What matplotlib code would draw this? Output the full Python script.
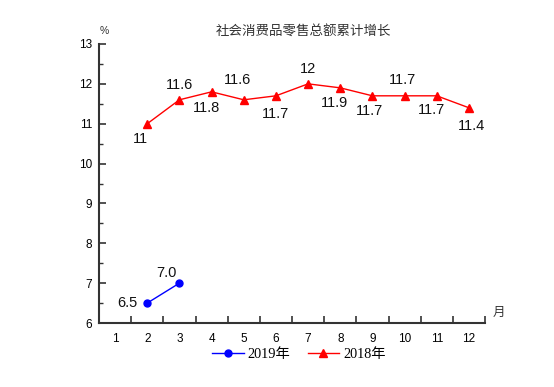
import numpy as np
import matplotlib.pyplot as plt
from matplotlib.ticker import MultipleLocator, FixedLocator

plt.rcParams['font.family'] = ['Liberation Sans', 'Noto Sans CJK SC', 'DejaVu Sans']

#===============================================================#
## data
months = list(range(1, 13))
m_2019 = [2, 3]
v_2019 = [6.5, 7.0]
m_2018 = [2, 3, 4, 5, 6, 7, 8, 9, 10, 11, 12]
v_2018 = [11, 11.6, 11.8, 11.6, 11.7, 12, 11.9, 11.7, 11.7, 11.7, 11.4]
lab_2018 = ["11", "11.6", "11.8", "11.6", "11.7", "12", "11.9", "11.7", "11.7", "11.7", "11.4"]
lab_2019 = ["6.5", "7.0"]

# label offsets in points (dx, dy)
off_2018 = [(-5, -11), (0, 11), (-4, -12), (-4.5, 14), (0, -13), (0, 11),
            (-4, -11), (-2, -11), (-1.5, 11.5), (-3.5, -10), (2, -13)]
off_2019 = [(-14, 0), (-9, 7)]

#===============================================================#
fig = plt.figure(figsize=(5.54, 3.87), dpi=100)
ax = fig.add_axes([99 / 554, 1 - 323 / 387, 386 / 554, 279 / 387])

l1, = ax.plot(m_2019, v_2019, '-o', color='#0000ff', lw=1, ms=5, label='2019年')
l2, = ax.plot(m_2018, v_2018, '-^', color='#ff0000', lw=1, ms=6, label='2018年')

for x, y, t, (dx, dy) in zip(m_2018, v_2018, lab_2018, off_2018):
    ax.annotate(t, (x, y), xytext=(dx, dy), textcoords='offset points',
                ha='center', va='center', fontsize=10.5, color='#111111')
for x, y, t, (dx, dy) in zip(m_2019, v_2019, lab_2019, off_2019):
    ax.annotate(t, (x, y), xytext=(dx, dy), textcoords='offset points',
                ha='center', va='center', fontsize=10.5, color='#111111')

ax.set_xlim(0.5, 12.5)
ax.set_ylim(6, 13)
ax.xaxis.set_major_locator(FixedLocator(months))
ax.xaxis.set_minor_locator(FixedLocator(np.arange(1.5, 13, 1)))
ax.yaxis.set_major_locator(MultipleLocator(1))
ax.yaxis.set_minor_locator(MultipleLocator(0.5))

ax.tick_params(axis='x', which='major', length=0, pad=7, labelsize=8.5)
ax.tick_params(axis='x', which='minor', direction='in', length=5, width=1.2, color='#333333')
ax.tick_params(axis='y', which='major', direction='in', length=5, width=1.2, color='#333333', labelsize=8.5, pad=5)
ax.tick_params(axis='y', which='minor', direction='in', length=3, width=1.0, color='#333333')

for s in ['top', 'right']:
    ax.spines[s].set_visible(False)
for s in ['left', 'bottom']:
    ax.spines[s].set_linewidth(1.5)
    ax.spines[s].set_color('#333333')

fig.text(303 / 554, 1 - 31 / 387, '社会消费品零售总额累计增长', ha='center', va='center',
         fontsize=9.7, color='#333333', family=['Noto Sans CJK SC'])
fig.text(104 / 554, 1 - 31 / 387, '%', ha='center', va='center', fontsize=7.5, color='#333333')
fig.text(499 / 554, 1 - 312 / 387, '月', ha='center', va='center', fontsize=9,
         color='#333333', family=['Noto Sans CJK SC'])

fig.legend(handles=[l1, l2], loc='center', bbox_to_anchor=(299 / 554, 1 - 354 / 387),
           ncol=2, frameon=False, handlelength=2.2, columnspacing=1.2,
           handletextpad=0.3, prop={'family': ['Liberation Serif', 'Noto Sans CJK SC'], 'size': 10.3})

plt.savefig('out.png', dpi=100)
